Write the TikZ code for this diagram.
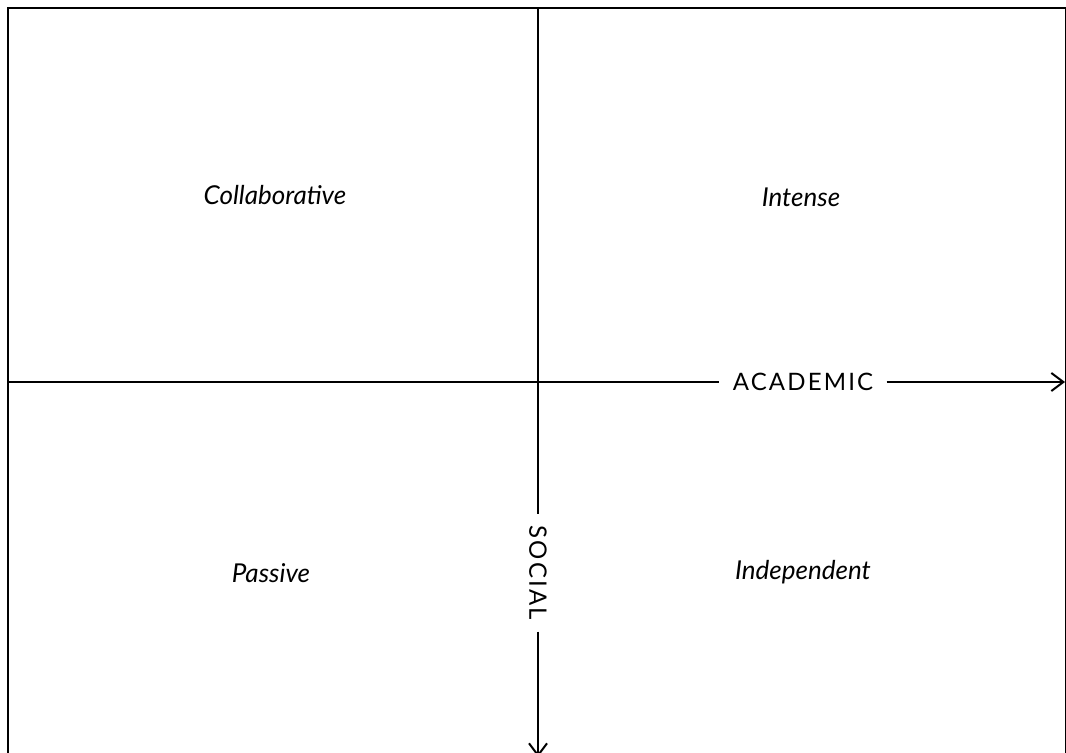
\documentclass[tikz,border=0pt]{standalone}
\usepackage{fontspec}
\setmainfont{Lato}
\usetikzlibrary{arrows.meta}

\begin{document}
\begin{tikzpicture}[x=0.5pt,y=-0.5pt,
		axisline/.style={line width=1pt},
		axisarrow/.style={line width=1pt,-{Straight Barb[length=6pt,width=9pt,line width=1pt]}},
		axislabel/.style={inner xsep=6.5pt,inner ysep=0pt,font=\fontsize{12}{14}\selectfont\addfontfeature{LetterSpace=9}},
		quadrant/.style={font=\fontsize{13}{15}\selectfont\itshape}]
		\useasboundingbox (0,0) rectangle (1066,753);
		\clip (0,0) rectangle (1066,753);
		\draw[line width=1pt] (8,8) rectangle (1066,760);
		\coordinate (west) at (8,382);
		\coordinate (east) at (1065,382);
		\coordinate (north) at (538,8);
		\coordinate (south) at (538,757);
		% axis labels
		\node[axislabel] (academic) at (803,382) {ACADEMIC};
		\node[axislabel,inner xsep=5.5pt,rotate=-90] (social) at (538,573) {SOCIAL};
		\draw[axisline] (west) -- (academic.west);
		\draw[axisarrow] (academic.east) -- (east);
		\draw[axisline] (north) -- (social.west);
		\draw[axisarrow] (social.east) -- (south);
		% quadrants
		\node[quadrant] (collab) at (275,195) {Collaborative};
		\node[quadrant] (intense) at (801,197) {Intense};
		\node[quadrant] (passive) at (271,573) {Passive};
		\node[quadrant] (indep) at (803,572) {Independent};
\end{tikzpicture}
\end{document}
